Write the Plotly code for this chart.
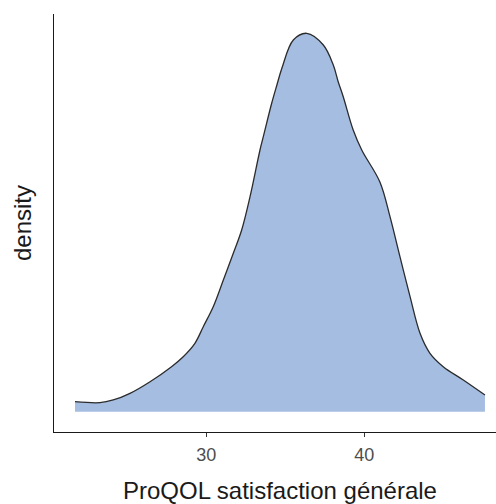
import plotly.graph_objects as go

# Kernel density estimate of the ProQOL general satisfaction score
score = [21.69, 23.27, 24.11, 25.17, 26.44, 27.80, 28.54, 29.28, 29.81, 30.44,
         31.08, 31.71, 32.24, 32.77, 33.40, 33.61, 34.14, 34.47, 34.79, 35.51,
         36.36, 37.41, 38.04, 38.35, 38.67, 39.30, 39.84, 40.99, 41.63, 42.26,
         42.90, 43.53, 44.16, 45.00, 46.27, 47.64]
density = [0.00266, 0.00240, 0.00311, 0.00487, 0.00793, 0.01188, 0.01451, 0.01804,
           0.02241, 0.02767, 0.03470, 0.04173, 0.04787, 0.05664, 0.06893, 0.07243,
           0.08123, 0.08605, 0.09052, 0.09790, 0.09966, 0.09658, 0.09131, 0.08692,
           0.08297, 0.07420, 0.06893, 0.06051, 0.05137, 0.04084, 0.03031, 0.02067,
           0.01540, 0.01188, 0.00837, 0.00442]
x_ticks = [30, 40]

FONT = "Liberation Sans, Arial, Helvetica, sans-serif"

fig = go.Figure()
fig.add_trace(go.Scatter(
    x=score, y=density,
    mode="lines",
    line=dict(color="#2b2b2b", width=1.3, shape="spline", smoothing=1.0),
    fill="tozeroy",
    fillcolor="#A5BDE1",
    hoverinfo="skip",
    showlegend=False,
))

fig.update_layout(
    width=496, height=504,
    margin=dict(l=54, r=0, t=14, b=72),
    paper_bgcolor="white",
    plot_bgcolor="white",
    font=dict(family=FONT),
    xaxis=dict(
        range=[20.36, 48.34],
        showgrid=False, zeroline=False,
        showline=True, linecolor="#1a1a1a", linewidth=1.2,
        ticks="outside", ticklen=4, tickwidth=1.2, tickcolor="#333333",
        tickvals=x_ticks,
        ticklabelstandoff=2,
        tickfont=dict(size=18, color="#4d4d4d", family=FONT),
    ),
    yaxis=dict(
        range=[-0.00532, 0.10474],
        showgrid=False, zeroline=False,
        showline=True, linecolor="#1a1a1a", linewidth=1.2,
        showticklabels=False, ticks="",
        title=dict(text="density",
                   font=dict(size=24, color="#1a1a1a", family=FONT),
                   standoff=14),
    ),
    annotations=[dict(
        text="ProQOL satisfaction générale",
        xref="paper", yref="paper",
        x=0.5113, y=-0.1388,
        xanchor="center", yanchor="middle",
        showarrow=False,
        font=dict(size=24, color="#1a1a1a", family=FONT),
    )],
)

fig.write_html("out.html")
